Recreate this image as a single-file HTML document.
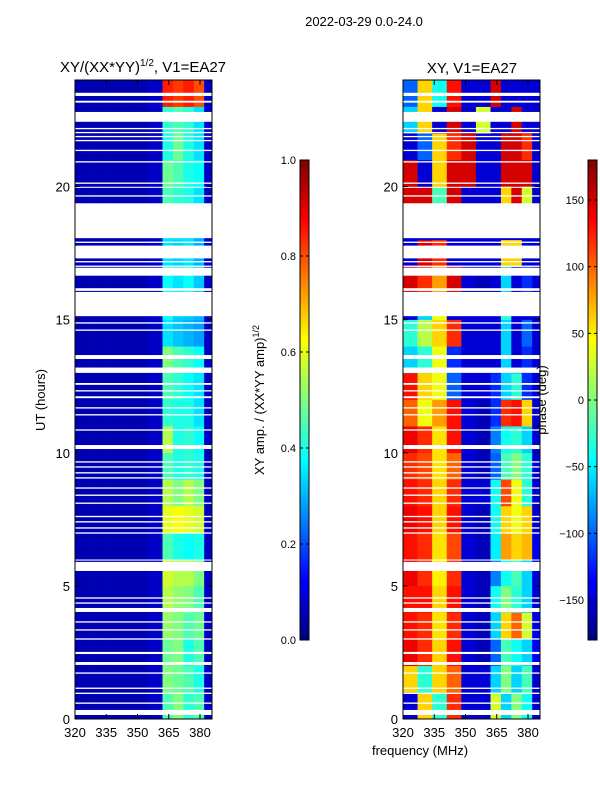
<!DOCTYPE html>
<html><head><meta charset="utf-8"><style>
html,body{margin:0;padding:0;background:#fff;}
svg text{font-family:"Liberation Sans",sans-serif;fill:#000;}
</style></head><body>
<svg id="fig" width="600" height="800" xmlns="http://www.w3.org/2000/svg">
<text x="364" y="26" font-size="13" text-anchor="middle">2022-03-29 0.0-24.0</text>
<text x="143" y="72" font-size="15" text-anchor="middle">XY/(XX*YY)<tspan font-size="10" dy="-6">1/2</tspan><tspan dy="6">, V1=EA27</tspan></text>
<text x="472" y="73" font-size="15" text-anchor="middle">XY, V1=EA27</text>
<text transform="translate(45,400) rotate(-90)" font-size="13" text-anchor="middle">UT (hours)</text>
<text transform="translate(264,400) rotate(-90)" font-size="13" text-anchor="middle">XY amp. / (XX*YY amp)<tspan font-size="9" dy="-5">1/2</tspan></text>
<text x="420" y="755" font-size="13" text-anchor="middle">frequency (MHz)</text>
<g id="left"></g>
<g id="right"></g>
<text transform="translate(546,400) rotate(-90)" font-size="13" text-anchor="middle">phase (deg)</text>
<g id="cb1"></g>
<g id="cb2"></g>
</svg>
<script>
const freqBins=[320,327,334,341,348,355,362,367,372,377,382];
const freqEnd=386;
const hourBins=[0,1,2,3,4,5,6,7,8,9,10,11,12,13,14,15,16,17,18,19,20,21,22,23];
// amplitude per hour row
const ampRows=[
[0.05,0.05,0.05,0.05,0.05,0.07,0.45,0.50,0.42,0.45,0.07],[0.05,0.05,0.05,0.05,0.05,0.07,0.50,0.48,0.45,0.40,0.07],
[0.05,0.05,0.05,0.05,0.05,0.07,0.48,0.50,0.40,0.45,0.07],[0.05,0.05,0.05,0.05,0.05,0.07,0.52,0.50,0.45,0.48,0.07],
[0.05,0.05,0.05,0.05,0.05,0.07,0.55,0.52,0.50,0.45,0.07],[0.05,0.05,0.05,0.05,0.05,0.07,0.58,0.55,0.55,0.50,0.07],
[0.05,0.05,0.05,0.05,0.05,0.07,0.45,0.40,0.38,0.40,0.07],[0.05,0.05,0.05,0.05,0.05,0.07,0.60,0.62,0.60,0.58,0.07],
[0.05,0.05,0.05,0.05,0.05,0.07,0.55,0.50,0.55,0.50,0.07],[0.05,0.05,0.05,0.05,0.05,0.07,0.45,0.40,0.42,0.40,0.07],
[0.05,0.05,0.05,0.05,0.05,0.07,0.55,0.40,0.42,0.38,0.07],[0.05,0.05,0.05,0.05,0.05,0.07,0.42,0.40,0.40,0.35,0.07],
[0.05,0.05,0.05,0.05,0.05,0.07,0.45,0.42,0.38,0.35,0.07],[0.05,0.05,0.05,0.05,0.05,0.07,0.50,0.45,0.42,0.38,0.07],
[0.05,0.05,0.05,0.05,0.05,0.07,0.35,0.32,0.30,0.28,0.07],[0.05,0.05,0.05,0.05,0.05,0.07,0.38,0.33,0.32,0.30,0.07],
[0.05,0.05,0.05,0.05,0.05,0.07,0.38,0.35,0.38,0.32,0.07],[0.05,0.05,0.05,0.05,0.05,0.07,0.35,0.33,0.35,0.30,0.07],
[0.05,0.05,0.05,0.05,0.05,0.07,0.35,0.35,0.35,0.30,0.07],[0.05,0.05,0.05,0.05,0.05,0.07,0.45,0.42,0.40,0.35,0.07],
[0.05,0.05,0.05,0.05,0.05,0.07,0.48,0.45,0.40,0.38,0.07],[0.05,0.05,0.05,0.05,0.05,0.07,0.40,0.48,0.40,0.35,0.07],
[0.05,0.05,0.05,0.05,0.05,0.07,0.42,0.45,0.42,0.35,0.07],[0.05,0.05,0.05,0.05,0.05,0.07,0.85,0.82,0.85,0.80,0.07]];
// phase (deg) per hour row
const phaseRows=[
[-150,60,-30,120,-150,-150,30,-60,0,-40,-150],[60,-30,60,100,-150,-150,-60,0,-60,-20,-150],
[140,120,60,130,-150,-160,-100,-20,-40,-60,-140],[130,120,55,120,-150,-160,-60,60,100,30,-140],
[130,130,60,130,-150,-160,-40,0,-30,-60,-150],[140,120,50,120,-150,-160,-90,-40,-20,-60,-150],
[130,120,55,110,-150,-160,-50,80,60,70,-140],[140,130,60,130,-150,-160,-40,60,40,60,-150],
[130,120,60,120,-150,-150,-40,110,40,-30,-150],[120,110,55,100,-150,-160,-100,-20,0,-30,-150],
[140,120,55,130,-150,-160,-90,-40,-30,-60,-150],[100,40,80,130,-150,-160,-120,120,130,60,-150],
[130,60,40,-100,-150,-150,-120,-60,-30,-120,-150],[-60,-30,40,-120,-150,-150,-150,-60,-150,-120,-150],
[-30,20,60,120,-150,-150,-150,-60,-150,-100,-150],[-150,-60,40,-150,-150,-150,-150,-30,-150,-150,-150],
[150,120,80,150,-150,-160,-150,-60,-150,-120,-150],[-150,150,120,-150,-150,-150,-150,60,60,-150,-150],
[-150,-150,-150,-150,-150,-150,-150,-150,-150,-150,-150],[150,150,-20,150,-150,-150,-150,60,150,30,-150],
[150,-150,60,150,150,-150,-150,150,150,150,-150],[-150,-100,60,120,150,-150,-150,150,150,120,-150],
[-60,60,-150,150,-150,30,-150,-150,150,-150,-150],[-100,60,-40,130,-150,-150,150,-150,-150,-150,-150]];
// flagged (blank) intervals in hours
const flagStart=[0.15,0.57,0.94,1.13,1.70,2.03,2.44,2.98,3.32,3.62,4.02,4.33,4.52,5.56,5.95,6.96,7.15,7.38,7.58,8.08,8.38,8.65,9.03,9.22,9.44,9.63,10.14,10.83,11.40,11.66,12.05,12.3,12.55,13.0,13.52,14.58,14.85,15.13,16.08,16.65,16.98,17.15,17.3,17.88,18.06,19.62,19.95,20.1,20.9,21.33,21.7,21.85,22.0,22.15,22.43,23.15,23.4];
const flagEnd=  [0.34,0.62,0.99,1.18,1.75,2.14,2.52,3.03,3.37,3.67,4.17,4.38,4.57,5.90,5.99,7.01,7.20,7.43,7.63,8.13,8.43,8.70,9.08,9.27,9.49,9.68,10.29,10.88,11.45,11.71,12.12,12.35,12.62,13.2,13.67,14.63,14.90,16.04,16.18,16.95,17.03,17.2,17.78,17.93,19.37,19.67,19.99,20.15,20.95,21.38,21.75,21.9,22.05,22.2,22.8,23.22,23.52];
const ampTicks=[0.0,0.2,0.4,0.6,0.8,1.0];
const phaseTicks=[-150,-100,-50,0,50,100,150];
const hourTicks=[0,5,10,15,20];
const freqTicks=[320,335,350,365,380];

const NS="http://www.w3.org/2000/svg";
function jet(t){t=Math.max(0,Math.min(1,t));
 const r=Math.max(0,Math.min(1,1.5-Math.abs(4*t-3))),g=Math.max(0,Math.min(1,1.5-Math.abs(4*t-2))),b=Math.max(0,Math.min(1,1.5-Math.abs(4*t-1)));
 return `rgb(${Math.round(r*255)},${Math.round(g*255)},${Math.round(b*255)})`;}
function el(p,tag,at){const e=document.createElementNS(NS,tag);for(const k in at)e.setAttribute(k,at[k]);p.appendChild(e);return e;}
const yS=h=>719-h*(639/24);
const panels=[{g:'left',x0:75},{g:'right',x0:403}];
function xS(x0,f){return x0+(f-320)*(125/60);}
panels.forEach((p,pi)=>{
 const g=document.getElementById(p.g);
 const rows=pi==0?ampRows:phaseRows;
 hourBins.forEach((h,ri)=>{freqBins.forEach((f,ci)=>{
   const v=rows[ri][ci];const t=pi==0?v:(v+180)/360;
   const f2=ci+1<freqBins.length?freqBins[ci+1]:freqEnd;
   const r=el(g,'rect',{x:xS(p.x0,f),y:yS(h+1),width:Math.min(xS(p.x0,f2),p.x0+137)-xS(p.x0,f)+0.3,height:yS(h)-yS(h+1)+0.3,fill:jet(t)});
   
   
 });});
 flagStart.forEach((s,i)=>{
   const r=el(g,'rect',{x:p.x0,y:yS(flagEnd[i]),width:137,height:yS(s)-yS(flagEnd[i]),fill:'#fff'});
   
   
 });
 el(g,'rect',{x:p.x0,y:80,width:137,height:639,fill:'none',stroke:'#000','stroke-width':1});
 hourTicks.forEach(h=>{const y=yS(h);
   el(g,'line',{x1:p.x0,x2:p.x0+5,y1:y,y2:y,stroke:'#000'});el(g,'line',{x1:p.x0+137,x2:p.x0+132,y1:y,y2:y,stroke:'#000'});
   const t=el(g,'text',{x:p.x0-5,y:y+5,'font-size':13,'text-anchor':'end'});t.textContent=h;
   
   });
 freqTicks.forEach(f=>{const x=xS(p.x0,f);
   el(g,'line',{x1:x,x2:x,y1:719,y2:714,stroke:'#000'});el(g,'line',{x1:x,x2:x,y1:80,y2:85,stroke:'#000'});
   const t=el(g,'text',{x:x,y:737,'font-size':13,'text-anchor':'middle'});t.textContent=f;
   
   });
});
function colorbar(id,x,lo,hi,ticks,fmt){
 const g=document.getElementById(id);
 for(let i=0;i<240;i++){const t=i/240;el(g,'rect',{x:x,y:640-(i+1)*2,width:9,height:2.3,fill:jet(t+0.5/240)});}
 el(g,'rect',{x:x,y:160,width:9,height:480,fill:'none',stroke:'#000'});
 ticks.forEach(v=>{const y=640-(v-lo)/(hi-lo)*480;
   el(g,'line',{x1:x,x2:x+3,y1:y,y2:y,stroke:'#000'});el(g,'line',{x1:x+9,x2:x+6,y1:y,y2:y,stroke:'#000'});
   const t=el(g,'text',{x:x-4,y:y+4,'font-size':11,'text-anchor':'end'});t.textContent=fmt(v);
   
   });
}
colorbar('cb1',300,0,1,ampTicks,v=>v.toFixed(1));
colorbar('cb2',588,-180,180,phaseTicks,v=>v<0?'\u2212'+(-v):String(v));
</script>
</body></html>
